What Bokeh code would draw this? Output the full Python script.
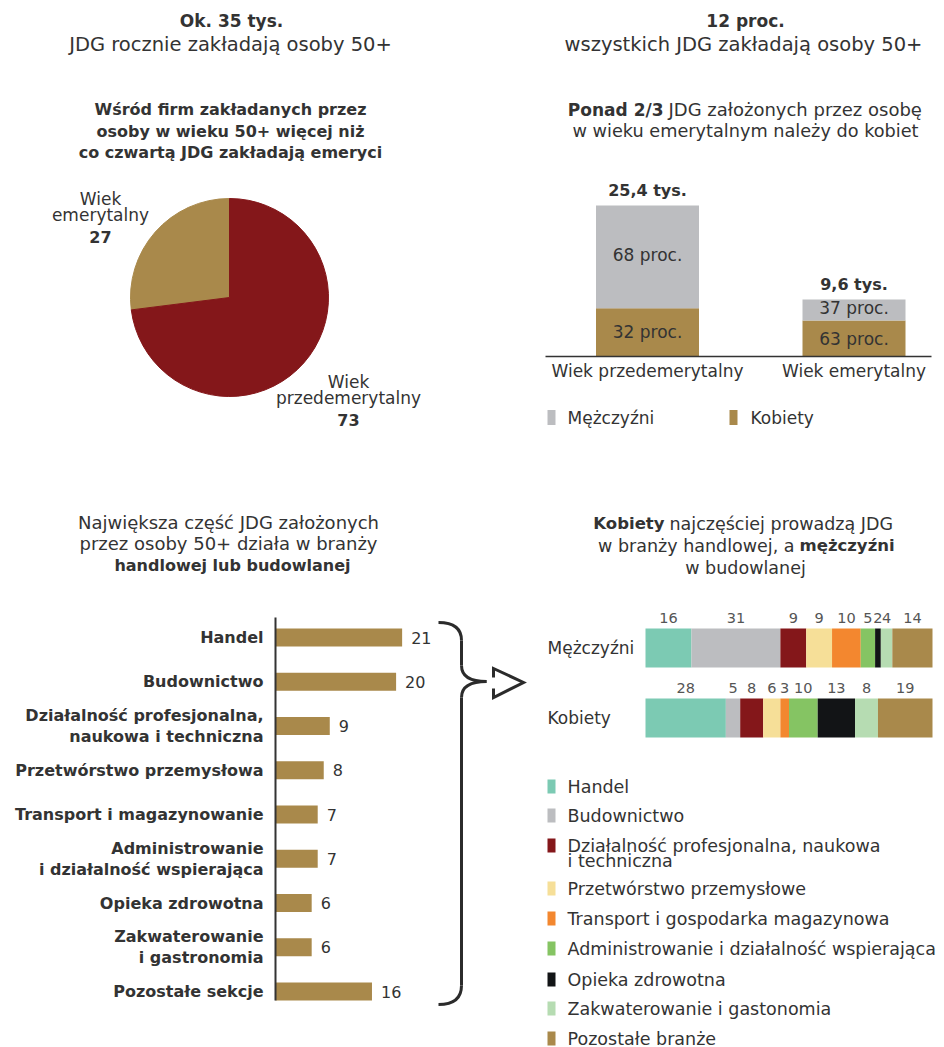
import math
from bokeh.plotting import figure
from bokeh.layouts import column, row
from bokeh.models import Range1d, ColumnDataSource
from bokeh.core.properties import value
from bokeh.embed import file_html
from bokeh.resources import INLINE

FONT = "DejaVu Sans"
TXT = "#333333"
GOLD = "#a9894b"
RED = "#84171a"
GRAY = "#bcbdc0"

# ---------------- data ----------------
pie_labels = ["Wiek\nemerytalny", "Wiek\nprzedemerytalny"]
pie_values = [27, 73]
pie_colors = [GOLD, RED]

age_groups = ["Wiek przedemerytalny", "Wiek emerytalny"]
age_totals = [25.4, 9.6]
age_total_labels = ["25,4 tys.", "9,6 tys."]
women_pct = [32, 63]
men_pct = [68, 37]
gender_labels = ["Mężczyźni", "Kobiety"]
gender_colors = [GRAY, GOLD]

sectors = ["Handel", "Budownictwo", "Działalność profesjonalna,\nnaukowa i techniczna",
           "Przetwórstwo przemysłowa", "Transport i magazynowanie",
           "Administrowanie\ni działalność wspierająca", "Opieka zdrowotna",
           "Zakwaterowanie\ni gastronomia", "Pozostałe sekcje"]
sector_values = [21, 20, 9, 8, 7, 7, 6, 6, 16]

branch_names = ["Handel", "Budownictwo", "Działalność profesjonalna, naukowa\ni techniczna",
                "Przetwórstwo przemysłowe", "Transport i gospodarka magazynowa",
                "Administrowanie i działalność wspierająca", "Opieka zdrowotna",
                "Zakwaterowanie i gastonomia", "Pozostałe branże"]
branch_colors = ["#7ccab3", "#bcbdc0", "#84171a", "#f6df98", "#f3872f",
                 "#85c463", "#121416", "#b6dcb2", "#a9894b"]
men_values = [16, 31, 9, 9, 10, 5, 2, 4, 14]
women_values = [28, 5, 8, 6, 3, 10, 13, 8, 19]
row_labels = ["Mężczyźni", "Kobiety"]


# ---------------- helpers ----------------
def panel(left, top, width, height, ox, sx, oy, sy):
    fx = lambda px: (px - ox) / sx
    fy = lambda py: (oy - py) / sy
    p = figure(width=width, height=height,
               x_range=Range1d(fx(left), fx(left + width)),
               y_range=Range1d(fy(top + height), fy(top)),
               output_backend="svg", toolbar_location=None,
               x_axis_location=None, y_axis_location=None,
               min_border=0, outline_line_color=None)
    p.grid.visible = False
    return p, fx, fy


def txt(p, x, y, s, size=17, bold=False, align="center", color=TXT):
    p.text(x=[x], y=[y], text=[s], text_align=align, text_baseline="middle",
           text_font=value(FONT), text_font_size=f"{size}px",
           text_font_style="bold" if bold else "normal", text_color=color)


# ---------------- panel 1: pie ----------------
p1, fx1, fy1 = panel(0, 0, 472, 460, 0, 1, 0, 1)
txt(p1, fx1(231), fy1(20), "Ok. 35 tys.", 17, True)
txt(p1, fx1(230), fy1(44), "JDG rocznie zakładają osoby 50+", 19.5)
for i, line in enumerate(["Wśród firm zakładanych przez",
                          "osoby w wieku 50+ więcej niż",
                          "co czwartą JDG zakładają emeryci"]):
    txt(p1, fx1(230), fy1(109 + 21.5 * i), line, 16, True)

total = sum(pie_values)
starts, ends = [], []
a = math.pi / 2
for v in pie_values:
    starts.append(a)
    a += v / total * 2 * math.pi
    ends.append(a)
p1.wedge(x=fx1(229), y=fy1(297), radius=99, start_angle=starts, end_angle=ends,
         fill_color=pie_colors, line_color=pie_colors)

pie_label_pos = [(100, 198), (348, 381)]
for lab, v, (lx, ly) in zip(pie_labels, pie_values, pie_label_pos):
    parts = lab.split("\n")
    for j, line in enumerate(parts):
        txt(p1, fx1(lx), fy1(ly + 16 * j), line, 17)
    txt(p1, fx1(lx), fy1(ly + 16 * len(parts) + 6), str(v), 16, True)

# ---------------- panel 2: stacked columns ----------------
SX2, SY2 = 206.5, 5.945
p2, fx2, fy2 = panel(472, 0, 472, 460, 647, SX2, 356, SY2)
txt(p2, fx2(745), fy2(20), "12 proc.", 17, True)
txt(p2, fx2(743), fy2(44), "wszystkich JDG zakładają osoby 50+", 19.5)
txt(p2, fx2(663), fy2(109), "Ponad 2/3", 17, True, "right")
txt(p2, fx2(668), fy2(109), "JDG założonych przez osobę", 18, False, "left")
txt(p2, fx2(745), fy2(130), "w wieku emerytalnym należy do kobiet", 17.7)

xi = list(range(len(age_groups)))
w_top = [t * w / 100 for t, w in zip(age_totals, women_pct)]
bw = 103 / SX2
p2.vbar(x=xi, bottom=0, top=w_top, width=bw, fill_color=GOLD, line_color=None)
p2.vbar(x=xi, bottom=w_top, top=age_totals, width=bw, fill_color=GRAY, line_color=None)
p2.segment(x0=[fx2(545)], y0=[0], x1=[fx2(931)], y1=[0], line_color="#333333", line_width=1.5)

for i in xi:
    txt(p2, i, age_totals[i] + 15 / SY2, age_total_labels[i], 16, True)
    txt(p2, i, (w_top[i] + age_totals[i]) / 2 + 2 / SY2, f"{men_pct[i]} proc.", 17)
    txt(p2, i, w_top[i] / 2, f"{women_pct[i]} proc.", 17)
    txt(p2, i, -14 / SY2, age_groups[i], 17)

legend_x = [(551, 567), (733, 750)]
for (sqx, tx), lab, col in zip(legend_x, gender_labels, gender_colors):
    p2.rect(x=[fx2(sqx)], y=[fy2(417)], width=8 / SX2, height=15 / SY2,
            fill_color=col, line_color=None)
    txt(p2, fx2(tx), fy2(417), lab, 17, False, "left")

# ---------------- panel 3: horizontal bars ----------------
SX3, SY3 = 6.03, 44.25
p3, fx3, fy3 = panel(0, 460, 538, 587, 275, SX3, 637, SY3)
txt(p3, fx3(228), fy3(522), "Największa część JDG założonych", 18)
txt(p3, fx3(228), fy3(543), "przez osoby 50+ działa w branży", 18)
txt(p3, fx3(232), fy3(565), "handlowej lub budowlanej", 16, True)

yi = [-i for i in range(len(sectors))]
p3.hbar(y=yi, left=0, right=sector_values, height=18 / SY3, fill_color=GOLD, line_color=None)
p3.segment(x0=[0], y0=[fy3(617)], x1=[0], y1=[fy3(1000)], line_color="#333333", line_width=2)
for y, lab, v in zip(yi, sectors, sector_values):
    parts = lab.split("\n")
    if len(parts) == 1:
        txt(p3, fx3(263), y, lab, 16, True, "right")
    else:
        txt(p3, fx3(263), y + 10.5 / SY3, parts[0], 16, True, "right")
        txt(p3, fx3(263), y - 10.5 / SY3, parts[1], 16, True, "right")
    txt(p3, v + 9 / SX3, y, str(v), 16, False, "left")

# brace and arrow
BR = "#2b2b2b"
def P(x, y):
    return fx3(x), fy3(y)
qs = [((438, 622), (461, 622), (461, 640)),
      ((461, 665), (461, 681), (486, 681)),
      ((486, 681), (461, 681), (461, 697)),
      ((461, 985), (461, 1004), (438, 1004))]
for a0, c0, a1 in qs:
    x0, y0 = P(*a0); cx, cy = P(*c0); x1, y1 = P(*a1)
    p3.quadratic(x0=[x0], y0=[y0], cx=[cx], cy=[cy], x1=[x1], y1=[y1], line_color=BR, line_width=3)
for a0, a1 in [((461, 640), (461, 665)), ((461, 697), (461, 985))]:
    x0, y0 = P(*a0); x1, y1 = P(*a1)
    p3.segment(x0=[x0], y0=[y0], x1=[x1], y1=[y1], line_color=BR, line_width=3)
arrow = [(493, 677), (493, 668), (523, 682), (493, 697), (493, 688)]
p3.line(x=[fx3(a) for a, b in arrow], y=[fy3(b) for a, b in arrow], line_color=BR,
        line_width=3, line_join="miter")

# ---------------- panel 4: 100% stacked bars ----------------
SX4, SY4 = 2.87, 70
p4, fx4, fy4 = panel(538, 460, 406, 587, 645, SX4, 647.5, SY4)
txt(p4, fx4(664), fy4(523), "Kobiety", 16.5, True, "right")
txt(p4, fx4(669), fy4(523), "najczęściej prowadzą JDG", 17.5, False, "left")
txt(p4, fx4(794), fy4(545), "w branży handlowej, a", 17.5, False, "right")
txt(p4, fx4(799), fy4(545), "mężczyźni", 16.5, True, "left")
txt(p4, fx4(745), fy4(567), "w budowlanej", 17.5)

for r, vals in enumerate([men_values, women_values]):
    lefts, rights = [], []
    acc = 0
    for v in vals:
        lefts.append(acc)
        acc += v
        rights.append(acc)
    src = ColumnDataSource(dict(y=[-r] * len(vals), left=lefts, right=rights,
                                color=branch_colors,
                                mid=[(l + rr) / 2 for l, rr in zip(lefts, rights)],
                                ly=[-r + 30 / SY4] * len(vals),
                                lab=[str(v) for v in vals]))
    p4.hbar(y="y", left="left", right="right", height=39 / SY4, fill_color="color",
            line_color=None, source=src)
    p4.text(x="mid", y="ly", text="lab", source=src, text_align="center",
            text_baseline="middle", text_font=value(FONT), text_font_size="14.5px",
            text_color="#555555")
    txt(p4, fx4(547), -r, row_labels[r], 17, False, "left")

leg_y = [786, 815, 845, 888, 918, 948, 979, 1008, 1038]
for name, col, ly in zip(branch_names, branch_colors, leg_y):
    p4.rect(x=[fx4(551)], y=[fy4(ly)], width=8 / SX4, height=14 / SY4,
            fill_color=col, line_color=None)
    parts = name.split("\n")
    for j, line in enumerate(parts):
        txt(p4, fx4(567), fy4(ly + 15 * j), line, 17.5, False, "left")

layout = column(row(p1, p2), row(p3, p4))
open("out.html", "w").write(file_html(layout, INLINE))
